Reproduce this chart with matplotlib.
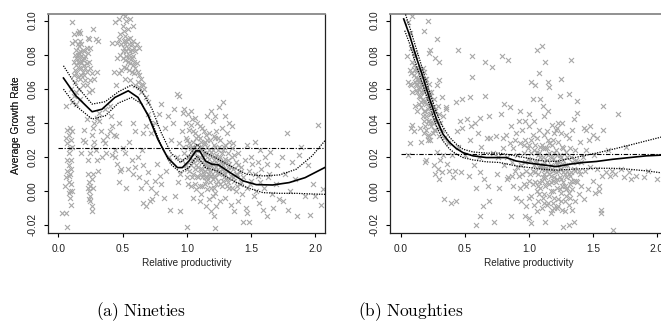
import numpy as np
import matplotlib as mpl
mpl.use("agg")
import matplotlib.pyplot as plt

plt.rcParams["font.family"] = ["Liberation Sans", "DejaVu Sans"]
plt.rcParams["mathtext.fontset"] = "cm"

# ---------------------------------------------------------------- data
# fitted curve and confidence band, nineties
nin_curve_x = [0.04, 0.136, 0.263, 0.34, 0.44, 0.544, 0.62, 0.70, 0.774, 0.85, 0.927, 0.965,
               1.017, 1.07, 1.10, 1.145, 1.195, 1.246, 1.336, 1.438, 1.54, 1.668, 1.796, 1.92, 2.08]
nin_curve_y = [0.0663, 0.0559, 0.0465, 0.048, 0.0549, 0.0588, 0.0549, 0.0441, 0.0304, 0.0196,
               0.0137, 0.0137, 0.0176, 0.0235, 0.0235, 0.0176, 0.0157, 0.0153, 0.0108, 0.0059,
               0.0037, 0.0035, 0.0049, 0.0078, 0.0140]
nin_band_x = [0.04, 0.136, 0.263, 0.365, 0.467, 0.57, 0.65, 0.73, 0.80, 0.875, 0.95, 1.015,
              1.08, 1.145, 1.235, 1.337, 1.465, 1.592, 1.72, 1.85, 1.975, 2.08]
nin_upper = [0.0735, 0.0622, 0.051, 0.0524, 0.0582, 0.0622, 0.0588, 0.048, 0.0343, 0.0225,
             0.0167, 0.0206, 0.0275, 0.0225, 0.019, 0.0147, 0.0098, 0.0088, 0.0094, 0.0127,
             0.0206, 0.0300]
nin_lower = [0.0598, 0.05, 0.0422, 0.0441, 0.0516, 0.0549, 0.051, 0.0402, 0.0265, 0.0157,
             0.0108, 0.0137, 0.0206, 0.0137, 0.0118, 0.0069, 0.002, -0.001, -0.0014, -0.0014,
             -0.0018, -0.002]
nin_mean = 0.0255

# fitted curve and confidence band, noughties
nou_curve_x = [0.023, 0.07, 0.122, 0.174, 0.226, 0.278, 0.33, 0.382, 0.434, 0.486, 0.564, 0.668,
               0.772, 0.824, 0.90, 1.006, 1.11, 1.215, 1.319, 1.423, 1.527, 1.657, 1.787, 1.917, 2.08]
nou_curve_y = [0.101, 0.0912, 0.0784, 0.0667, 0.0539, 0.0422, 0.0333, 0.0284, 0.0249, 0.0225,
               0.0206, 0.0196, 0.0196, 0.0196, 0.0176, 0.0163, 0.0153, 0.0143, 0.0157, 0.0167,
               0.0173, 0.0186, 0.0196, 0.0206, 0.0212]
nou_band_x = [0.031, 0.07, 0.122, 0.174, 0.226, 0.278, 0.33, 0.382, 0.434, 0.486, 0.564, 0.668,
              0.772, 0.90, 1.006, 1.11, 1.215, 1.319, 1.423, 1.527, 1.657, 1.787, 1.917, 2.08]
nou_upper = [0.105, 0.0961, 0.0833, 0.0706, 0.0578, 0.0461, 0.0373, 0.0314, 0.0275, 0.0245,
             0.0229, 0.0222, 0.0222, 0.0206, 0.019, 0.0176, 0.0173, 0.019, 0.0206, 0.0222,
             0.0245, 0.0269, 0.0294, 0.0325]
nou_lower = [0.0941, 0.0863, 0.0735, 0.0618, 0.05, 0.0382, 0.0294, 0.0245, 0.0216, 0.0196,
             0.0182, 0.0171, 0.0167, 0.0147, 0.0137, 0.0127, 0.0122, 0.0127, 0.0131, 0.0133,
             0.0133, 0.0127, 0.0118, 0.0102]
nou_mean = 0.0216

# observations (relative productivity, average growth rate), nineties
nin_points = [
    (0.03, -0.013), (0.06, -0.013), (0.07, -0.021), (0.05, 0.003), (0.06, 0.008), (0.07, 0.012),
    (0.08, 0.015), (0.08, 0.005), (0.09, 0.000), (0.09, -0.004), (0.10, -0.008), (0.10, 0.018),
    (0.08, 0.022), (0.07, 0.028), (0.08, 0.033), (0.07, 0.036), (0.09, 0.037), (0.10, 0.030),
    (0.11, 0.026), (0.06, 0.050), (0.09, 0.010), (0.10, 0.013), (0.08, -0.001), (0.11, 0.000),
    (0.07, 0.018), (0.09, 0.025), (0.11, 0.035), (0.06, 0.031), (0.10, 0.004), (0.08, 0.009),
    (0.11, 0.099), (0.12, 0.092), (0.11, 0.087), (0.13, 0.088), (0.15, 0.093), (0.16, 0.094),
    (0.17, 0.093), (0.14, 0.083), (0.15, 0.080), (0.16, 0.078), (0.17, 0.082), (0.18, 0.079),
    (0.19, 0.077), (0.17, 0.076), (0.16, 0.072), (0.18, 0.072), (0.19, 0.070), (0.14, 0.074),
    (0.13, 0.071), (0.12, 0.068), (0.15, 0.067), (0.17, 0.066), (0.20, 0.074), (0.21, 0.079),
    (0.22, 0.084), (0.23, 0.081), (0.24, 0.089), (0.23, 0.090), (0.22, 0.075), (0.24, 0.076),
    (0.25, 0.072), (0.26, 0.069), (0.27, 0.095), (0.25, 0.084), (0.21, 0.065), (0.19, 0.062),
    (0.16, 0.060), (0.14, 0.058), (0.12, 0.056), (0.20, 0.068), (0.22, 0.062), (0.24, 0.058),
    (0.26, 0.059), (0.28, 0.066), (0.30, 0.070), (0.29, 0.089), (0.31, 0.088), (0.13, 0.080),
    (0.18, 0.086), (0.20, 0.082), (0.15, 0.086), (0.13, 0.064), (0.10, 0.060), (0.11, 0.052),
    (0.17, 0.054), (0.14, 0.051), (0.22, 0.070), (0.18, 0.068), (0.16, 0.085), (0.25, 0.065),
    (0.15, 0.076), (0.16, 0.081), (0.18, 0.075), (0.14, 0.078), (0.12, 0.076), (0.17, 0.088),
    (0.19, 0.083), (0.20, 0.078), (0.21, 0.072), (0.14, 0.069),
    (0.23, 0.010), (0.24, 0.005), (0.24, 0.000), (0.25, -0.003), (0.25, -0.006), (0.26, -0.009),
    (0.26, -0.012), (0.25, 0.003), (0.26, 0.007), (0.27, 0.010), (0.24, -0.005), (0.23, 0.018),
    (0.25, 0.022), (0.27, 0.026), (0.26, 0.033), (0.27, 0.037), (0.28, 0.029), (0.29, 0.024),
    (0.30, 0.018), (0.28, 0.040), (0.30, 0.043), (0.32, 0.041), (0.33, 0.035), (0.35, 0.030),
    (0.36, 0.028), (0.38, 0.032), (0.40, 0.035), (0.42, 0.038), (0.43, 0.033), (0.42, 0.021),
    (0.44, 0.024), (0.41, 0.044), (0.37, 0.022), (0.34, 0.020), (0.31, 0.012), (0.21, 0.029),
    (0.20, 0.036), (0.22, 0.042), (0.19, 0.030), (0.18, 0.022), (0.27, 0.002), (0.23, 0.002),
    (0.32, 0.046), (0.36, 0.048), (0.40, 0.050),
    (0.44, 0.099), (0.47, 0.101), (0.50, 0.104), (0.52, 0.103), (0.53, 0.100), (0.56, 0.101),
    (0.58, 0.097), (0.50, 0.097), (0.51, 0.094), (0.52, 0.091), (0.48, 0.092), (0.54, 0.095),
    (0.53, 0.088), (0.55, 0.086), (0.56, 0.090), (0.47, 0.089), (0.46, 0.087), (0.49, 0.086),
    (0.51, 0.084), (0.53, 0.082), (0.55, 0.080), (0.57, 0.083), (0.58, 0.079), (0.60, 0.082),
    (0.48, 0.080), (0.46, 0.078), (0.50, 0.078), (0.52, 0.077), (0.54, 0.076), (0.56, 0.075),
    (0.58, 0.074), (0.60, 0.072), (0.61, 0.075), (0.62, 0.070), (0.63, 0.068), (0.64, 0.066),
    (0.62, 0.064), (0.65, 0.063), (0.66, 0.062), (0.67, 0.060), (0.64, 0.058), (0.59, 0.069),
    (0.57, 0.070), (0.55, 0.071), (0.53, 0.072), (0.51, 0.073), (0.49, 0.071), (0.47, 0.069),
    (0.52, 0.066), (0.56, 0.065), (0.60, 0.062), (0.63, 0.061), (0.68, 0.055), (0.70, 0.052),
    (0.61, 0.086), (0.63, 0.084), (0.45, 0.062), (0.43, 0.070), (0.42, 0.087), (0.58, 0.088),
    (0.52, 0.086), (0.54, 0.084), (0.56, 0.082), (0.55, 0.078), (0.57, 0.078), (0.59, 0.076),
    (0.53, 0.079), (0.50, 0.082), (0.54, 0.089), (0.51, 0.088), (0.57, 0.086), (0.59, 0.084),
    (0.44, 0.020), (0.46, 0.016), (0.48, 0.012), (0.50, 0.025), (0.52, 0.022), (0.54, 0.013),
    (0.55, 0.029), (0.57, 0.018), (0.58, 0.010), (0.60, 0.014), (0.62, 0.020), (0.63, 0.008),
    (0.65, 0.024), (0.66, 0.015), (0.68, 0.005), (0.70, 0.011), (0.72, 0.002), (0.73, -0.005),
    (0.75, 0.006), (0.76, -0.001), (0.77, 0.016), (0.79, 0.009), (0.80, 0.004), (0.82, -0.004),
    (0.84, 0.012), (0.86, 0.020), (0.88, 0.030), (0.89, 0.040), (0.90, 0.048), (0.92, 0.057),
    (0.94, 0.056), (0.85, 0.044), (0.83, 0.037), (0.80, 0.051), (0.78, 0.045), (0.75, 0.040),
    (0.72, 0.034), (0.70, 0.045), (0.68, 0.038), (0.66, 0.034), (0.60, 0.035), (0.58, 0.040),
    (0.47, 0.040), (0.45, 0.032), (0.49, 0.013), (0.53, 0.002), (0.47, 0.005), (0.66, -0.007),
    (0.68, -0.009), (0.71, -0.006), (0.87, -0.011), (0.91, -0.003), (0.93, 0.005), (0.95, 0.010),
    (0.92, 0.020), (0.94, 0.028), (0.96, 0.035), (0.97, 0.046), (0.98, 0.048), (0.64, 0.002),
    (0.98, 0.022), (0.99, 0.015), (1.00, 0.030), (1.00, 0.008), (1.01, 0.020), (1.02, 0.036),
    (1.02, 0.012), (1.03, 0.025), (1.03, 0.003), (1.04, 0.018), (1.04, 0.042), (1.05, 0.029),
    (1.05, 0.010), (1.06, 0.022), (1.06, 0.034), (1.07, 0.015), (1.07, 0.001), (1.08, 0.027),
    (1.08, 0.040), (1.09, 0.019), (1.09, 0.008), (1.10, 0.031), (1.10, 0.013), (1.11, 0.024),
    (1.11, -0.002), (1.12, 0.017), (1.12, 0.037), (1.13, 0.010), (1.13, 0.028), (1.14, 0.021),
    (1.14, 0.004), (1.15, 0.015), (1.15, 0.033), (1.16, 0.026), (1.16, 0.008), (1.17, 0.019),
    (1.17, -0.005), (1.18, 0.012), (1.18, 0.030), (1.19, 0.023), (1.19, 0.002), (1.20, 0.016),
    (1.20, 0.041), (1.21, 0.009), (1.21, 0.027), (1.22, 0.020), (1.22, -0.001), (1.23, 0.014),
    (1.23, 0.035), (1.24, 0.006), (1.24, 0.024), (1.25, 0.018), (1.25, 0.049), (1.26, 0.011),
    (1.26, 0.030), (1.27, 0.003), (1.27, 0.022), (1.28, 0.015), (1.28, 0.052), (1.29, 0.008),
    (1.29, 0.026), (1.30, 0.019), (1.30, -0.004), (1.31, 0.012), (1.31, 0.034), (1.32, 0.005),
    (1.32, 0.022), (1.33, 0.016), (1.33, 0.040), (1.34, 0.009), (1.34, -0.008), (1.35, 0.020),
    (1.35, 0.002), (1.36, 0.013), (1.36, 0.028), (1.37, 0.006), (1.37, -0.012), (1.38, 0.017),
    (1.38, 0.000), (1.39, 0.010), (1.40, 0.022), (1.40, -0.006), (1.41, 0.004), (1.42, 0.014),
    (1.43, -0.002), (1.44, 0.008), (1.44, -0.018), (1.45, 0.018), (1.46, -0.010), (1.47, 0.002),
    (1.05, 0.018), (1.07, 0.024), (1.09, 0.014), (1.10, 0.020), (1.11, 0.010), (1.12, 0.026),
    (1.13, 0.018), (1.14, 0.012), (1.15, 0.022), (1.16, 0.016), (1.17, 0.010), (1.18, 0.021),
    (1.19, 0.015), (1.20, 0.007), (1.21, 0.018), (1.22, 0.012), (1.23, 0.004), (1.24, 0.016),
    (1.25, 0.010), (1.26, 0.020), (1.27, 0.013), (1.28, 0.006), (1.29, 0.017), (1.30, 0.010),
    (1.31, 0.003), (1.32, 0.014), (1.08, 0.009), (1.06, 0.004), (1.04, 0.026), (1.02, 0.020),
    (1.01, 0.004), (1.12, 0.003), (1.16, 0.001), (1.18, 0.005), (1.20, -0.003), (1.22, 0.026),
    (1.24, 0.031), (1.14, 0.029), (1.10, 0.038), (1.06, 0.043), (1.03, 0.047), (1.01, 0.045),
    (0.99, 0.040), (1.16, 0.044), (1.19, 0.047), (1.22, 0.044), (1.27, 0.037), (1.30, 0.044),
    (1.33, 0.029), (1.35, 0.038), (1.26, -0.006), (1.23, -0.009), (1.19, -0.012), (1.15, -0.009),
    (1.10, -0.006), (1.05, -0.004), (1.21, -0.015), (1.22, -0.022), (1.00, -0.021), (0.95, -0.012),
    (1.01, 0.026), (1.03, 0.015), (1.04, 0.008), (1.05, 0.022), (1.06, 0.013), (1.07, 0.031),
    (1.08, 0.018), (1.09, 0.024), (1.10, 0.003), (1.11, 0.029), (1.12, 0.008), (1.13, 0.022),
    (1.14, 0.016), (1.15, 0.006), (1.16, 0.030), (1.17, 0.024), (1.18, 0.016), (1.19, 0.009),
    (1.20, 0.024), (1.21, 0.002), (1.22, 0.031), (1.23, 0.021), (1.24, 0.011), (1.25, 0.026),
    (1.26, 0.004), (1.27, 0.017), (1.28, 0.024), (1.29, 0.012), (1.30, 0.027), (1.31, 0.007),
    (1.32, 0.018), (1.33, 0.002), (1.34, 0.014), (1.35, 0.025), (1.36, 0.008), (1.37, 0.021),
    (1.38, 0.010), (1.39, 0.003), (1.40, 0.015), (1.41, 0.011), (1.42, 0.005), (1.12, 0.013),
    (1.14, 0.008), (1.16, 0.013), (1.18, 0.009), (1.20, 0.013), (1.22, 0.008), (1.24, 0.019),
    (1.26, 0.014), (1.13, 0.035), (1.17, 0.034), (1.21, 0.032), (1.09, 0.032), (1.05, 0.035),
    (1.02, 0.028), (0.99, 0.031), (0.97, 0.026), (0.96, 0.018), (1.00, 0.013), (1.03, 0.039),
    (1.47, 0.027), (1.48, 0.012), (1.50, 0.020), (1.50, 0.006), (1.51, 0.016), (1.52, -0.003),
    (1.53, 0.010), (1.54, 0.000), (1.55, 0.017), (1.56, -0.007), (1.57, 0.005), (1.58, 0.013),
    (1.59, -0.011), (1.60, 0.002), (1.61, 0.020), (1.62, -0.015), (1.63, 0.008), (1.65, 0.023),
    (1.66, -0.002), (1.67, -0.010), (1.69, 0.004), (1.70, 0.015), (1.72, -0.005), (1.74, 0.020),
    (1.76, 0.010), (1.78, 0.034), (1.79, -0.011), (1.80, 0.000), (1.82, 0.017), (1.84, 0.007),
    (1.86, -0.015), (1.87, 0.021), (1.89, 0.026), (1.92, -0.003), (1.94, 0.015), (1.96, -0.014),
    (1.98, 0.004), (2.00, -0.003), (2.02, 0.039), (2.04, -0.008), (2.06, 0.001), (1.53, 0.029),
    (1.57, 0.024), (1.64, 0.010), (1.75, -0.006), (1.62, 0.016), (1.55, 0.009), (1.48, -0.018),
    (1.47, -0.013), (1.49, 0.004),
]

# observations, noughties
nou_points = [
    (0.05, 0.079), (0.06, 0.064), (0.07, 0.063), (0.07, 0.071), (0.08, 0.062), (0.08, 0.069),
    (0.09, 0.076), (0.09, 0.058), (0.10, 0.068), (0.10, 0.081), (0.08, 0.084), (0.07, 0.093),
    (0.06, 0.099), (0.09, 0.103), (0.11, 0.079), (0.12, 0.072), (0.12, 0.063), (0.13, 0.071),
    (0.13, 0.058), (0.14, 0.066), (0.14, 0.051), (0.15, 0.061), (0.15, 0.055), (0.16, 0.068),
    (0.16, 0.049), (0.17, 0.063), (0.17, 0.054), (0.18, 0.058), (0.18, 0.047), (0.19, 0.066),
    (0.19, 0.052), (0.20, 0.060), (0.20, 0.044), (0.21, 0.055), (0.21, 0.048), (0.22, 0.063),
    (0.22, 0.041), (0.23, 0.052), (0.23, 0.045), (0.24, 0.058), (0.24, 0.038), (0.25, 0.049),
    (0.25, 0.034), (0.26, 0.054), (0.26, 0.042), (0.27, 0.047), (0.27, 0.036), (0.28, 0.062),
    (0.28, 0.041), (0.29, 0.037), (0.29, 0.050), (0.30, 0.032), (0.30, 0.045), (0.31, 0.040),
    (0.32, 0.036), (0.33, 0.044), (0.34, 0.031), (0.35, 0.048), (0.18, 0.041), (0.19, 0.038),
    (0.20, 0.036), (0.21, 0.030), (0.17, 0.044), (0.16, 0.058), (0.14, 0.064), (0.12, 0.067),
    (0.15, 0.071), (0.18, 0.070), (0.20, 0.066), (0.22, 0.058), (0.24, 0.051), (0.26, 0.047),
    (0.23, 0.056), (0.19, 0.060), (0.17, 0.072), (0.13, 0.062), (0.11, 0.064), (0.08, 0.037),
    (0.07, 0.028), (0.06, 0.021), (0.09, 0.039), (0.10, 0.035), (0.19, 0.017), (0.20, 0.018),
    (0.21, 0.033), (0.18, 0.034), (0.22, 0.032), (0.23, 0.030), (0.16, 0.029), (0.15, 0.037),
    (0.11, 0.050), (0.13, 0.047), (0.23, 0.083), (0.28, 0.089), (0.27, 0.078), (0.30, 0.076),
    (0.22, 0.081), (0.21, 0.100), (0.18, 0.094), (0.30, 0.065), (0.32, 0.055),
    (0.10, 0.074), (0.11, 0.071), (0.12, 0.059), (0.13, 0.066), (0.14, 0.060), (0.15, 0.065),
    (0.16, 0.052), (0.17, 0.059), (0.18, 0.053), (0.19, 0.047), (0.20, 0.051), (0.21, 0.041),
    (0.22, 0.049), (0.23, 0.040), (0.24, 0.045), (0.25, 0.040), (0.26, 0.036), (0.27, 0.041),
    (0.14, 0.056), (0.16, 0.063),
    (0.26, 0.015), (0.27, 0.010), (0.28, 0.023), (0.29, 0.013), (0.30, 0.007), (0.31, 0.018),
    (0.32, 0.011), (0.33, 0.021), (0.34, -0.005), (0.36, 0.016), (0.37, 0.028), (0.38, 0.012),
    (0.39, -0.007), (0.40, 0.021), (0.41, 0.008), (0.42, 0.012), (0.43, -0.006), (0.44, 0.035),
    (0.45, 0.026), (0.46, 0.041), (0.47, 0.011), (0.48, 0.054), (0.48, 0.037), (0.50, 0.021),
    (0.52, 0.042), (0.53, 0.009), (0.54, 0.030), (0.55, 0.038), (0.56, 0.067), (0.56, 0.079),
    (0.57, 0.015), (0.58, 0.040), (0.59, 0.002), (0.59, -0.020), (0.60, 0.034), (0.62, 0.043),
    (0.62, 0.011), (0.63, 0.026), (0.64, -0.009), (0.65, 0.007), (0.66, 0.056), (0.66, 0.076),
    (0.67, 0.031), (0.68, 0.003), (0.69, -0.006), (0.70, 0.031), (0.71, 0.073), (0.72, 0.022),
    (0.73, -0.018), (0.74, 0.032), (0.75, 0.010), (0.76, 0.020), (0.77, 0.002), (0.78, 0.045),
    (0.79, 0.079), (0.80, 0.031), (0.81, 0.051), (0.83, 0.007), (0.84, 0.077), (0.85, 0.049),
    (0.86, -0.015), (0.62, -0.015), (0.61, 0.020), (0.69, 0.044), (0.54, 0.055), (0.43, 0.052),
    (0.45, 0.083), (0.35, 0.049),
    (0.80, 0.025), (0.81, 0.015), (0.82, 0.033), (0.83, 0.020), (0.84, 0.008), (0.85, 0.028),
    (0.86, 0.038), (0.87, 0.017), (0.88, 0.003), (0.88, 0.025), (0.89, 0.012), (0.90, 0.034),
    (0.90, -0.004), (0.91, 0.021), (0.92, 0.009), (0.92, 0.041), (0.93, 0.028), (0.94, 0.015),
    (0.94, -0.006), (0.95, 0.036), (0.96, 0.022), (0.96, 0.004), (0.97, 0.030), (0.98, 0.012),
    (0.98, -0.009), (0.99, 0.025), (1.00, 0.038), (1.00, 0.006), (1.01, 0.018), (1.02, 0.030),
    (1.02, -0.003), (1.03, 0.012), (1.04, 0.024), (1.04, 0.041), (1.05, 0.005), (1.05, 0.017),
    (1.06, 0.031), (1.07, -0.006), (1.07, 0.010), (1.08, 0.022), (1.08, 0.036), (1.09, 0.002),
    (1.09, 0.015), (1.10, 0.027), (1.10, -0.010), (1.11, 0.008), (1.11, 0.020), (1.12, 0.033),
    (1.12, -0.002), (1.13, 0.013), (1.13, 0.025), (1.14, 0.005), (1.14, 0.018), (1.15, 0.030),
    (1.15, -0.007), (1.16, 0.010), (1.16, 0.022), (1.17, 0.000), (1.17, 0.015), (1.18, 0.027),
    (1.18, -0.011), (1.19, 0.006), (1.19, 0.019), (1.20, 0.034), (1.20, -0.004), (1.21, 0.011),
    (1.21, 0.024), (1.22, 0.002), (1.22, 0.016), (1.23, 0.029), (1.23, -0.009), (1.24, 0.008),
    (1.24, 0.021), (1.25, -0.001), (1.25, 0.013), (1.26, 0.026), (1.26, 0.040), (1.27, 0.005),
    (1.27, 0.018), (1.28, -0.006), (1.28, 0.010), (1.29, 0.023), (1.30, 0.002), (1.30, 0.015),
    (1.31, 0.031), (1.32, -0.004), (1.32, 0.009), (1.33, 0.020), (1.34, 0.001), (1.34, 0.036),
    (1.35, 0.013), (1.36, -0.006), (1.36, 0.024), (1.37, 0.006), (1.38, 0.017), (1.39, -0.002),
    (1.40, 0.029), (1.40, 0.010), (1.41, 0.003), (1.42, 0.020), (1.43, 0.037), (1.43, -0.005),
    (1.44, 0.012), (1.45, 0.024),
    (1.05, 0.011), (1.06, 0.023), (1.07, 0.003), (1.08, 0.014), (1.09, 0.026), (1.10, 0.006),
    (1.11, 0.015), (1.12, 0.010), (1.13, 0.003), (1.14, 0.012), (1.15, 0.021), (1.16, 0.004),
    (1.17, 0.009), (1.18, 0.013), (1.19, 0.000), (1.20, 0.008), (1.21, 0.017), (1.22, 0.007),
    (1.23, 0.012), (1.24, 0.001), (1.25, 0.007), (1.26, 0.016), (1.27, 0.011), (1.28, 0.003),
    (1.29, 0.008), (1.30, 0.012), (1.31, -0.001), (1.32, 0.004), (1.33, 0.011), (1.11, -0.004),
    (1.14, -0.008), (1.17, -0.013), (1.20, -0.010), (1.23, -0.005), (1.26, -0.011), (1.29, -0.003),
    (1.12, 0.044), (1.15, 0.047), (1.18, 0.039), (1.22, 0.037), (1.25, 0.034), (1.00, 0.045),
    (0.97, 0.041), (0.93, 0.047), (1.03, 0.054), (1.05, 0.062), (1.02, 0.064), (1.08, 0.069),
    (1.10, 0.085), (1.06, 0.083), (1.13, 0.076), (1.15, 0.064), (1.16, 0.061), (1.09, 0.054),
    (1.11, 0.050), (1.24, 0.056), (1.25, 0.066), (1.33, 0.077), (1.31, 0.057), (1.35, 0.042),
    (1.38, 0.053), (1.38, 0.046), (1.13, -0.018), (1.06, -0.012), (1.00, -0.016), (0.97, -0.015),
    (1.02, -0.019), (1.27, -0.021), (1.31, -0.020), (1.35, -0.018),
    (0.95, 0.010), (0.96, 0.027), (0.97, 0.017), (0.98, 0.003), (0.99, 0.019), (1.00, 0.027),
    (1.01, 0.010), (1.02, 0.022), (1.03, 0.004), (1.03, 0.033), (1.04, 0.015), (1.05, 0.027),
    (1.06, 0.000), (1.06, 0.017), (1.07, 0.021), (1.08, 0.005), (1.09, 0.020), (1.10, 0.013),
    (1.11, 0.025), (1.12, 0.017), (1.13, 0.008), (1.14, 0.025), (1.15, 0.013), (1.16, 0.028),
    (1.17, 0.005), (1.18, 0.020), (1.19, 0.012), (1.20, 0.022), (1.21, 0.005), (1.22, 0.021),
    (1.23, 0.017), (1.24, 0.013), (1.25, 0.020), (1.26, 0.003), (1.27, 0.025), (1.28, 0.015),
    (1.29, 0.001), (1.30, 0.020), (1.31, 0.010), (1.32, 0.025), (1.33, 0.006), (1.34, 0.017),
    (1.35, 0.006), (1.36, 0.012), (1.37, 0.018), (1.38, 0.005), (1.39, 0.012), (1.41, 0.017),
    (1.12, -0.007), (1.16, -0.003), (1.19, -0.007), (1.22, -0.010), (1.25, -0.006), (1.28, -0.012),
    (1.31, -0.008), (1.34, -0.011), (1.08, -0.002), (1.04, -0.008), (1.00, -0.004), (0.93, 0.002),
    (0.91, 0.014), (0.89, 0.030), (0.87, 0.009), (1.14, 0.035), (1.19, 0.030), (1.23, 0.040),
    (1.29, 0.033), (1.21, 0.036),
    (1.45, 0.036), (1.46, 0.001), (1.47, 0.030), (1.48, 0.014), (1.50, 0.006), (1.51, 0.021),
    (1.52, -0.001), (1.53, 0.031), (1.55, 0.000), (1.56, -0.011), (1.56, -0.013), (1.57, 0.009),
    (1.58, 0.050), (1.58, 0.036), (1.60, 0.011), (1.62, 0.024), (1.63, 0.009), (1.65, 0.012),
    (1.66, -0.023), (1.67, 0.010), (1.70, 0.045), (1.72, 0.013), (1.74, 0.008), (1.76, 0.026),
    (1.78, 0.011), (1.80, 0.007), (1.84, 0.009), (1.90, 0.008), (1.93, 0.012), (2.00, 0.007),
    (1.48, 0.038), (1.53, 0.013), (1.55, 0.003), (1.50, 0.033),
]

x_ticks = [0.0, 0.5, 1.0, 1.5, 2.0]
y_ticks = [-0.02, 0.00, 0.02, 0.04, 0.06, 0.08, 0.10]
captions = ["(a) Nineties", "(b) Noughties"]

# ---------------------------------------------------------------- plot
W, H = 661, 330
fig = plt.figure(figsize=(W / 100, H / 100), dpi=100)

panels = [
    dict(rect=(48.3, 14, 325, 233), xlim=(-0.078, 2.075), pts=nin_points,
         cx=nin_curve_x, cy=nin_curve_y, bx=nin_band_x, up=nin_upper, lo=nin_lower,
         mean=nin_mean, cap_x=141),
    dict(rect=(390, 14, 666.5, 233), xlim=(-0.084, 2.075), pts=nou_points,
         cx=nou_curve_x, cy=nou_curve_y, bx=nou_band_x, up=nou_upper, lo=nou_lower,
         mean=nou_mean, cap_x=411),
]

for p, cap in zip(panels, captions):
    x0, y0, x1, y1 = p["rect"]
    ax = fig.add_axes([x0 / W, 1 - y1 / H, (x1 - x0) / W, (y1 - y0) / H])
    pts = np.array(p["pts"])
    ax.scatter(pts[:, 0], pts[:, 1], marker="x", s=13, color="#a8a8a8",
               linewidths=0.8, zorder=1)
    ax.plot([0.0, 2.2], [p["mean"], p["mean"]], color="black", lw=0.8,
            dashes=(4, 1.5, 1, 1.5), zorder=2)
    ax.plot(p["bx"], p["up"], color="black", lw=0.9, ls=(0, (1, 1)), zorder=3)
    ax.plot(p["bx"], p["lo"], color="black", lw=0.9, ls=(0, (1, 1)), zorder=3)
    ax.plot(p["cx"], p["cy"], color="black", lw=1.2, zorder=4)

    ax.set_xlim(*p["xlim"])
    ax.set_ylim(-0.0247, 0.1039)
    ax.set_xticks(x_ticks)
    ax.set_xticklabels([f"{t:.1f}" for t in x_ticks])
    ax.set_yticks(y_ticks)
    ax.set_yticklabels([f"{t:.2f}" for t in y_ticks], rotation=90, va="center")
    ax.tick_params(direction="out", length=3, width=0.8, labelsize=7.3,
                   color="black", labelcolor="#222222")
    ax.tick_params(axis="y", pad=4.5)
    ax.tick_params(axis="x", pad=5)
    for side in ["left", "bottom", "right"]:
        ax.spines[side].set_linewidth(0.9)
        ax.spines[side].set_color("#222222")
    ax.spines["top"].set_linewidth(1.3)
    ax.spines["top"].set_color("#888888")

    ax.set_xlabel("Relative productivity", fontsize=7.2, color="#222222")
    ax.set_ylabel("Average Growth Rate", fontsize=7.3, color="#222222")
    ax.xaxis.set_label_coords(0.5, (y1 - 258) / (y1 - y0))
    ax.yaxis.set_label_coords((21 - x0) / (x1 - x0), 0.493)

    fig.text(p["cap_x"] / W, 1 - 312 / H, r"$\mathrm{" + cap.replace(" ", r"\ ") + "}$",
             ha="center", va="center", fontsize=12.5)

fig.savefig("out.png", dpi=100)
